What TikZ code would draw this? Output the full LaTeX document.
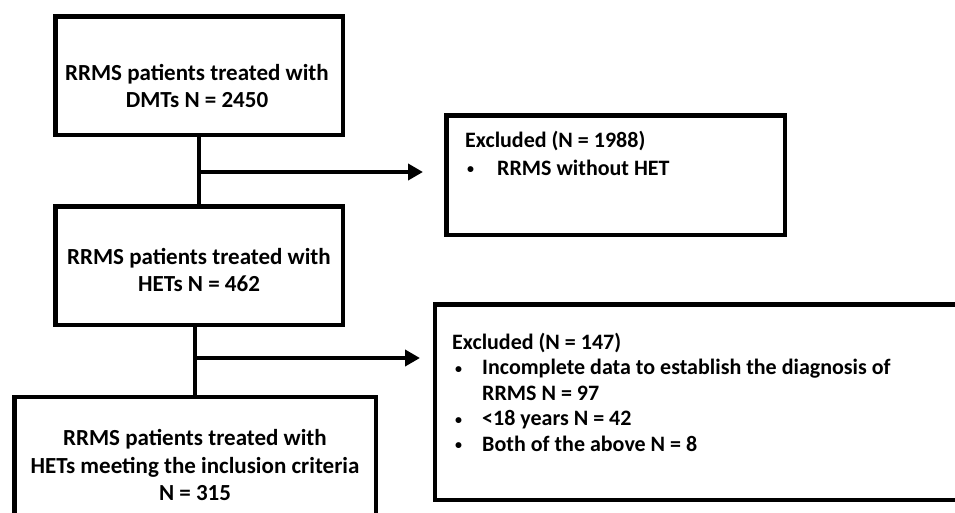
\documentclass[tikz,border=0pt]{standalone}
\usepackage{fontspec}
\setmainfont{Carlito}
\usetikzlibrary{arrows.meta}
\newcommand{\smbullet}{\raisebox{1.5pt}{\fontsize{14}{14}\selectfont •}}
\begin{document}
\begin{tikzpicture}[x=1pt,y=-1pt,
  box/.style={draw, line width=4.5pt, inner sep=0pt},
  txt/.style={inner sep=0pt, font=\bfseries\fontsize{23}{27}\selectfont},
  conn/.style={line width=4.5pt},
  arr/.style={line width=4.5pt, -{Triangle[length=15pt,width=16pt]}}]
\useasboundingbox (0,0) rectangle (955,512);
\clip (0,0) rectangle (955,512);
% boxes
\node[box, minimum width=287.5pt, minimum height=118.5pt] (b1) at (199,75.5) {};
\node[box, minimum width=338.5pt, minimum height=119.5pt] (b2) at (615.5,175) {};
\node[box, minimum width=287.5pt, minimum height=118.5pt] (b3) at (199,265.5) {};
\node[box, minimum width=544.75pt, minimum height=195.5pt] (b4) at (707.6,402) {};
\node[box, minimum width=361.5pt, minimum height=132.75pt] (b5) at (195,463.6) {};
% texts
\node[txt, align=center] (t1) at (197,86) {RRMS patients treated with\\DMTs N = 2450};
\node[txt, align=center] (t3) at (199,270) {RRMS patients treated with\\HETs N = 462};
\node[txt, align=center, font=\bfseries\fontsize{23}{27.5}\selectfont] (t5) at (195,465) {RRMS patients treated with\\HETs meeting the inclusion criteria\\N = 315};
\node[txt, anchor=base west, font=\bfseries\fontsize{22}{28}\selectfont] (t2) at (465,147)
  {\begin{tabular}[t]{@{}p{32pt}@{}l@{}}
  \multicolumn{2}{@{}l@{}}{Excluded (N = 1988)}\\
  \hspace{2pt}\smbullet & RRMS without HET
  \end{tabular}};
\node[txt, anchor=base west, font=\bfseries\fontsize{22}{25.5}\selectfont] (t4) at (452,349)
  {\begin{tabular}[t]{@{}p{30pt}@{}l@{}}
  \multicolumn{2}{@{}l@{}}{Excluded (N = 147)}\\
  \hspace{3pt}\smbullet & Incomplete data to establish the diagnosis of\\
   & RRMS N = 97\\
  \hspace{3pt}\smbullet & <18 years N = 42\\
  \hspace{3pt}\smbullet & Both of the above N = 8
  \end{tabular}};
% connectors
\coordinate (j1) at (b1.south |- 0,172);
\coordinate (e1) at (423,172);
\draw[conn] (b1.south) -- (b3.north);
\draw[arr] (j1) -- (e1);
\coordinate (s2) at (b3.south -| b5.north);
\coordinate (j2) at (b5.north |- 0,358);
\coordinate (e2) at (420,358);
\draw[conn] (s2) -- (b5.north);
\draw[arr] (j2) -- (e2);
\end{tikzpicture}
\end{document}
